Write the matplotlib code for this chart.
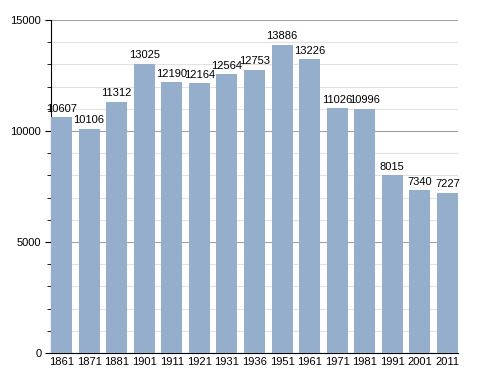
import numpy as np
import matplotlib.pyplot as plt
from matplotlib.ticker import MultipleLocator

years = ["1861", "1871", "1881", "1901", "1911", "1921", "1931", "1936",
         "1951", "1961", "1971", "1981", "1991", "2001", "2011"]
population = [10607, 10106, 11312, 13025, 12190, 12164, 12564, 12753,
              13886, 13226, 11026, 10996, 8015, 7340, 7227]

plt.rcParams['font.family'] = ['Liberation Sans', 'DejaVu Sans']

fig = plt.figure(figsize=(4.88, 3.73), dpi=100)
ax = fig.add_axes([0.1045, 0.0536, 0.834, 0.893])

x = np.arange(len(years))
w = 0.76
bars = ax.bar(x, population, width=w, color='#94aecc', zorder=3)

for xi, v in zip(x, population):
    ax.text(xi, v + 150, str(v), ha='center', va='bottom', fontsize=8, zorder=4)

ax.set_xlim(-w / 2, len(years) - 1 + w / 2)
ax.set_ylim(0, 15000)
ax.set_xticks(x)
ax.set_xticklabels(years, fontsize=8)
ax.tick_params(axis='x', length=0, pad=3)

ax.yaxis.set_major_locator(MultipleLocator(5000))
ax.yaxis.set_minor_locator(MultipleLocator(1000))
ax.tick_params(axis='y', which='major', length=4, labelsize=8, pad=3)
ax.tick_params(axis='y', which='minor', length=3)
ax.grid(axis='y', which='major', color='#a0a0a0', linewidth=0.8, zorder=0)
ax.grid(axis='y', which='minor', color='#e2e2e2', linewidth=0.8, zorder=0)

ax.spines['top'].set_visible(False)
ax.spines['right'].set_visible(False)

fig.savefig('out.png', dpi=100)
